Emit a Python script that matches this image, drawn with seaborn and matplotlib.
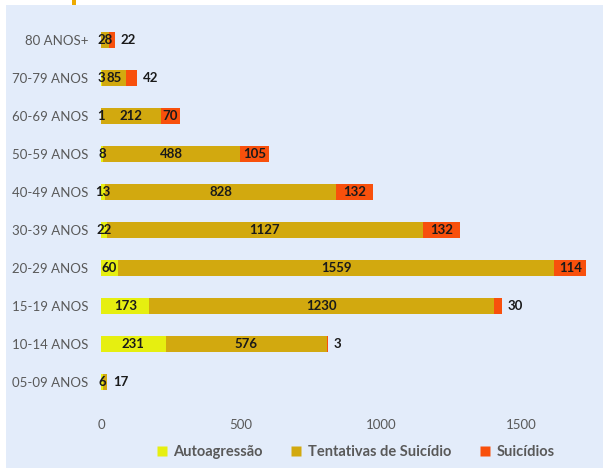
import matplotlib
matplotlib.use("Agg")
import matplotlib.pyplot as plt
import seaborn as sns
import numpy as np
import pandas as pd
from matplotlib.lines import Line2D
from matplotlib.patches import Rectangle

categories = ["80 ANOS+", "70-79 ANOS", "60-69 ANOS", "50-59 ANOS", "40-49 ANOS",
              "30-39 ANOS", "20-29 ANOS", "15-19 ANOS", "10-14 ANOS", "05-09 ANOS"]
autoagressao = [0, 3, 1, 8, 13, 22, 60, 173, 231, 6]
tentativas = [28, 85, 212, 488, 828, 1127, 1559, 1230, 576, 17]
suicidios = [22, 42, 70, 105, 132, 132, 114, 30, 3, 0]
series_names = ["Autoagressão", "Tentativas de Suicídio", "Suicídios"]
x_ticks = [0, 500, 1000, 1500]

colors = ["#E6EF10", "#D2A90F", "#F8500C"]
bg = "#E3ECFA"
grey = "#595959"

plt.rcParams["font.family"] = ["Lato", "DejaVu Sans"]

df = pd.DataFrame({"cat": categories, "a": autoagressao, "t": tentativas, "s": suicidios})
df["c1"] = df["a"]
df["c2"] = df["a"] + df["t"]
df["c3"] = df["a"] + df["t"] + df["s"]

fig = plt.figure(figsize=(6.03, 4.68), dpi=100)
fig.patch.set_facecolor("white")
W, H = 603, 468
fig.patches.append(Rectangle((6 / W, 0), 1 - 6 / W, 1 - 5 / H, transform=fig.transFigure,
                             facecolor=bg, edgecolor="none", zorder=-10))
fig.patches.append(Rectangle((72 / W, 1 - 5 / H), 4 / W, 5 / H, transform=fig.transFigure,
                             facecolor="#EDAA00", edgecolor="none", zorder=-10))

ax = fig.add_axes([101 / W, 1 - 401 / H, (591 - 101) / W, (401 - 21) / H])
ax.set_facecolor("none")

for col, c in zip(["c3", "c2", "c1"], [colors[2], colors[1], colors[0]]):
    sns.barplot(data=df, x=col, y="cat", order=categories, orient="h", color=c,
                saturation=1, width=0.41, ax=ax, linewidth=0)

ax.set_xlim(0, 1750)
ax.set_xticks(x_ticks)
ax.set_xticklabels([str(v) for v in x_ticks])
ax.set_xlabel("")
ax.set_ylabel("")
for sp in ax.spines.values():
    sp.set_visible(False)
ax.tick_params(axis="both", length=0, colors=grey, labelsize=9.5)
ax.tick_params(axis="x", pad=13)
ax.tick_params(axis="y", pad=9)

lab_kw = dict(fontsize=9.5, fontweight="bold", color="#1A1A1A", va="center")
for i, row in df.iterrows():
    segs = [(row["a"], 0), (row["t"], row["c1"]), (row["s"], row["c2"])]
    nonzero = [k for k, (v, _) in enumerate(segs) if v > 0]
    last = nonzero[-1] if nonzero else -1
    for k, (v, start) in enumerate(segs):
        if v <= 0:
            continue
        if k == last and v < 50:
            ax.annotate(str(v), xy=(start + v, i), xytext=(4, 0), textcoords="offset points",
                        ha="left", **lab_kw)
        else:
            ax.text(start + v / 2, i, str(v), ha="center", **lab_kw)

handles = [Line2D([0], [0], marker="s", linestyle="none", markersize=7.5,
                  markerfacecolor=c, markeredgecolor="none") for c in colors]
leg = fig.legend(handles, series_names, loc="center", bbox_to_anchor=(351 / W, 1 - 452 / H),
                 ncol=3, frameon=False, handletextpad=-0.2, columnspacing=1.3,
                 prop={"family": ["Lato", "DejaVu Sans"], "weight": "bold", "size": 10.5})
for t in leg.get_texts():
    t.set_color(grey)

fig.savefig("out.png", dpi=100, facecolor=fig.get_facecolor())
